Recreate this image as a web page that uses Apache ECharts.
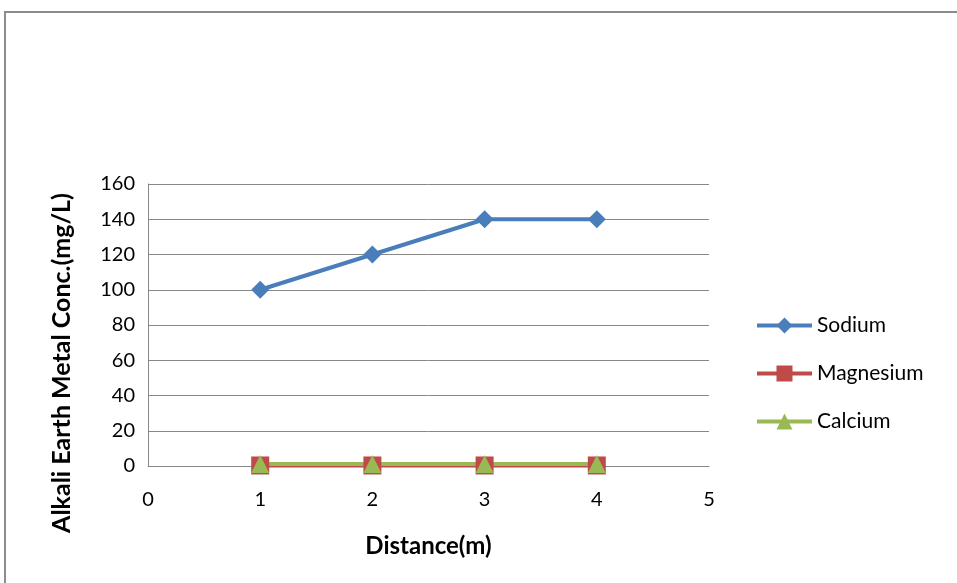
<!DOCTYPE html>
<html>
<head>
<meta charset="utf-8">
<script src="https://cdn.jsdelivr.net/npm/echarts@6/dist/echarts.min.js"></script>
<style>
html,body{margin:0;padding:0;background:#fff;}
#chart{width:957px;height:583px;}
</style>
</head>
<body>
<div id="chart"></div>
<script>
const distance = [1, 2, 3, 4];
const sodium = [100, 120, 140, 140];
const magnesium = [0.3, 0.3, 0.3, 0.3];
const calcium = [1.2, 1.2, 1.2, 1.2];
const seriesNames = ['Sodium', 'Magnesium', 'Calcium'];

const pairs = arr => distance.map((d, i) => [d, arr[i]]);
const FONT = 'Lato';

const chart = echarts.init(document.getElementById('chart'), null, {renderer: 'canvas'});
chart.setOption({
  animation: false,
  backgroundColor: '#ffffff',
  graphic: [{
    type: 'rect',
    shape: {x: 5, y: 12, width: 1000, height: 700},
    style: {fill: 'none', stroke: '#8c8c8c', lineWidth: 2},
    silent: true
  }],
  grid: {left: 148, right: 248, top: 184, bottom: 117},
  legend: {
    orient: 'vertical',
    left: 750,
    top: 310,
    itemWidth: 55,
    itemHeight: 20,
    itemGap: 27,
    data: seriesNames,
    lineStyle: {width: 4},
    textStyle: {fontFamily: FONT, fontSize: 21, color: '#000'}
  },
  xAxis: {
    type: 'value',
    min: 0, max: 5, interval: 1,
    name: 'Distance(m)',
    nameLocation: 'middle',
    nameGap: 68,
    nameTextStyle: {fontFamily: FONT, fontSize: 24, fontWeight: 'bold', color: '#000'},
    axisLine: {show: true, lineStyle: {color: '#888', width: 1}},
    axisTick: {show: false},
    axisLabel: {fontFamily: FONT, fontSize: 20, color: '#000', margin: 24},
    splitLine: {show: false}
  },
  yAxis: {
    type: 'value',
    min: 0, max: 160, interval: 20,
    name: 'Alkali Earth Metal Conc.(mg/L)',
    nameLocation: 'middle',
    nameGap: 74,
    nameTextStyle: {fontFamily: FONT, fontSize: 25, fontWeight: 'bold', color: '#000', padding: [0, 76, 0, 0]},
    axisLine: {show: true, lineStyle: {color: '#888', width: 1}},
    axisTick: {show: false},
    axisLabel: {fontFamily: FONT, fontSize: 20, color: '#000', margin: 13},
    splitLine: {show: true, lineStyle: {color: '#888', width: 1}}
  },
  series: [
    {
      name: 'Sodium', type: 'line', data: pairs(sodium),
      symbol: 'diamond', symbolSize: 18,
      lineStyle: {color: '#4a7ebb', width: 4},
      itemStyle: {color: '#4a7ebb'}
    },
    {
      name: 'Magnesium', type: 'line', data: pairs(magnesium),
      symbol: 'rect', symbolSize: 18,
      lineStyle: {color: '#be4b48', width: 4},
      itemStyle: {color: '#be4b48'}
    },
    {
      name: 'Calcium', type: 'line', data: pairs(calcium),
      symbol: 'triangle', symbolSize: 18,
      lineStyle: {color: '#98b954', width: 4},
      itemStyle: {color: '#98b954'}
    }
  ]
});
</script>
</body>
</html>
